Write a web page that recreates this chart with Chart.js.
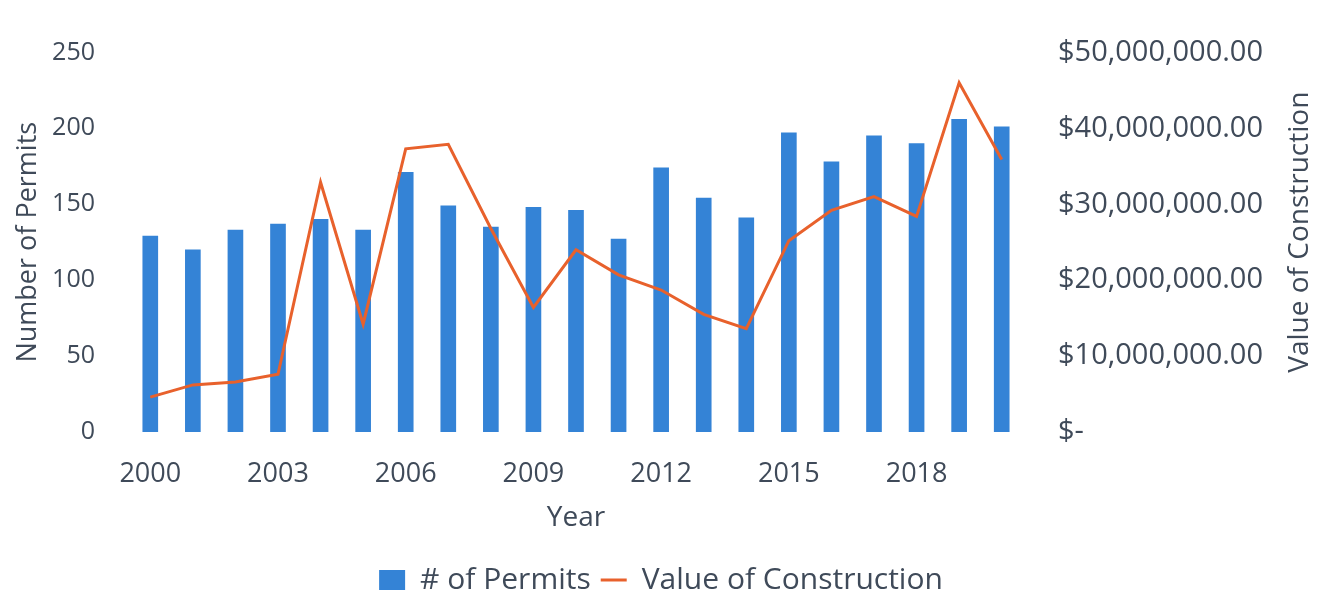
<!DOCTYPE html>
<html>
<head>
<meta charset="utf-8">
<title>Permits and Value of Construction</title>
<script src="https://cdn.jsdelivr.net/npm/chart.js@4"></script>
<style>
  body { margin: 0; background: #fff; }
  #wrap { width: 1322px; height: 597px; }
</style>
</head>
<body>
<div id="wrap"><canvas id="chart"></canvas></div>
<script>
// data
const years = ['2000', '2001', '2002', '2003', '2004', '2005', '2006', '2007', '2008', '2009', '2010',
               '2011', '2012', '2013', '2014', '2015', '2016', '2017', '2018', '2019', '2020'];
const permits = [129, 120, 133, 137, 140, 133, 171, 149, 135, 148, 146,
                 127, 174, 154, 141, 197, 178, 195, 190, 206, 201];
const construction = [4600000, 6200000, 6600000, 7600000, 32900000, 14200000, 37300000, 37900000,
                      26800000, 16400000, 24000000, 20700000, 18700000, 15500000, 13600000,
                      25200000, 29200000, 31000000, 28400000, 46000000, 35900000];
const permitTicks = [0, 50, 100, 150, 200, 250];
const valueTicks = [0, 10000000, 20000000, 30000000, 40000000, 50000000];

const textColor = '#3f4a59';
const fontFamily = '"Open Sans", "Noto Sans", sans-serif';
const rightTitleText = 'Value of Construction';

function money(v) {
    if (v === 0) return '$-';
    return '$' + v.toLocaleString('en-US', { minimumFractionDigits: 2, maximumFractionDigits: 2 });
}

// Chart.js turns a right-hand title the other way, so this one is drawn reading upwards
const rightTitle = {
    id: 'rightTitle',
    afterDraw(chart) {
        const { ctx, chartArea } = chart;
        const scale = chart.scales.y1;
        ctx.save();
        ctx.translate(scale.right - 22, (chartArea.top + chartArea.bottom) / 2 - 10);
        ctx.rotate(-Math.PI / 2);
        ctx.font = '28px ' + fontFamily;
        ctx.fillStyle = textColor;
        ctx.textAlign = 'center';
        ctx.textBaseline = 'middle';
        ctx.fillText(rightTitleText, 0, 0);
        ctx.restore();
    }
};

new Chart(document.getElementById('chart'), {
    data: {
        labels: years,
        datasets: [{
            type: 'bar',
            label: '# of Permits',
            data: permits,
            backgroundColor: '#3483d6',
            barThickness: 15,
            yAxisID: 'y',
            order: 1,
            pointStyle: 'rect'
        }, {
            type: 'line',
            label: 'Value of Construction',
            data: construction,
            borderColor: '#e8612c',
            backgroundColor: '#e8612c',
            borderWidth: 3,
            pointRadius: 0,
            tension: 0,
            yAxisID: 'y1',
            order: 0,
            pointStyle: 'line'
        }]
    },
    plugins: [rightTitle],
    options: {
        responsive: true,
        maintainAspectRatio: false,
        animation: false,
        layout: { padding: { top: 36, left: 0, right: 0, bottom: -8 } },
        plugins: {
            tooltip: { enabled: false },
            legend: {
                position: 'bottom',
                labels: {
                    color: textColor,
                    font: { family: fontFamily, size: 30 },
                    usePointStyle: true,
                    pointStyleWidth: 26,
                    boxHeight: 20,
                    padding: 10,
                    sort: (a, b) => a.datasetIndex - b.datasetIndex
                }
            }
        },
        scales: {
            x: {
                offset: true,
                grid: { display: false, drawTicks: false },
                border: { display: false },
                ticks: {
                    color: textColor,
                    font: { family: fontFamily, size: 27 },
                    autoSkip: false,
                    maxRotation: 0,
                    padding: 26,
                    callback: function (value, index) {
                        return index % 3 === 0 ? this.getLabelForValue(value) : '';
                    }
                },
                title: {
                    display: true,
                    text: 'Year',
                    color: textColor,
                    font: { family: fontFamily, size: 28 },
                    padding: { top: 0, bottom: 20 }
                },
                afterFit: s => { s.height = 123; }
            },
            y: {
                position: 'left',
                min: permitTicks[0],
                max: permitTicks[permitTicks.length - 1],
                afterBuildTicks: s => { s.ticks = permitTicks.map(v => ({ value: v })); },
                grid: { display: false, drawTicks: false },
                border: { display: false },
                ticks: {
                    color: textColor,
                    font: { family: fontFamily, size: 25 },
                    padding: 34
                },
                title: {
                    display: true,
                    text: 'Number of Permits',
                    color: textColor,
                    font: { family: fontFamily, size: 27 },
                    padding: { top: 12, bottom: 0 }
                },
                afterFit: s => { s.width = 129; }
            },
            y1: {
                position: 'right',
                min: valueTicks[0],
                max: valueTicks[valueTicks.length - 1],
                afterBuildTicks: s => { s.ticks = valueTicks.map(v => ({ value: v })); },
                grid: { display: false, drawTicks: false },
                border: { display: false },
                ticks: {
                    color: textColor,
                    font: { family: fontFamily, size: 29 },
                    padding: 35,
                    callback: v => money(v)
                },
                title: { display: false },
                afterFit: s => { s.width = 299; }
            }
        }
    }
});
</script>
</body>
</html>
